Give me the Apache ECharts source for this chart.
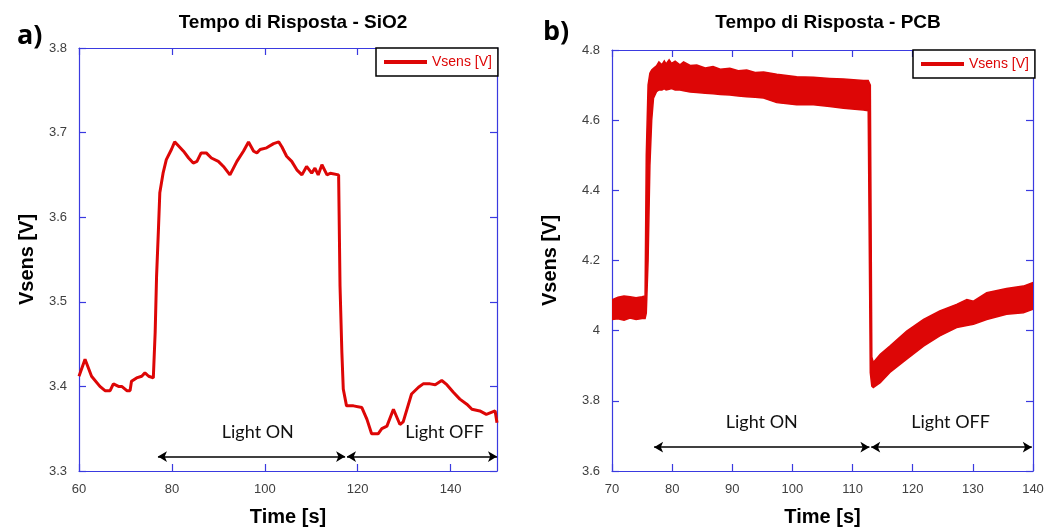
<!DOCTYPE html>
<html>
<head>
<meta charset="utf-8">
<script src="https://cdn.jsdelivr.net/npm/echarts@6/dist/echarts.min.js"></script>
<style>
  html, body { margin: 0; padding: 0; background: #fff; }
  #main { width: 1055px; height: 532px; }
</style>
</head>
<body>
<div id="main"></div>
<script>
// a) SiO2 response
var sio2Time = [60, 61.3, 62.7, 64.5, 65.6, 66.7, 67.4, 68.5, 69.2, 70.3, 71.0, 71.3, 72.4, 73.5, 74.2, 75.0, 76.0,
  76.4, 76.7, 77.1, 77.4, 78.1, 78.8, 79.9, 80.6, 81.3, 82.5, 83.6, 84.6, 85.4, 86.3, 87.4, 88.5, 90.0, 91.1,
  92.5, 94.0, 95.4, 96.5, 97.6, 98.3, 99.0, 100.4, 101.9, 103.0, 103.7, 104.7, 105.8, 106.9, 108.0, 109.0,
  110.1, 110.8, 111.5, 112.3, 113.4, 114.1, 115.9, 116.2, 116.6, 116.9, 117.6, 119.1, 120.9, 122.0, 123.0,
  124.4, 125.2, 126.3, 127.7, 129.1, 129.8, 131.6, 133.1, 134.1, 135.6, 136.7, 138.1, 139.2, 140.6, 142.0,
  143.5, 144.6, 146.3, 147.7, 149.6, 150.0];
var sio2V = [3.412, 3.432, 3.412, 3.400, 3.395, 3.395, 3.403, 3.400, 3.400, 3.395, 3.395, 3.406, 3.410, 3.412, 3.416, 3.412, 3.410,
  3.464, 3.530, 3.585, 3.629, 3.652, 3.668, 3.680, 3.689, 3.685, 3.678, 3.670, 3.664, 3.666, 3.676, 3.676, 3.670, 3.666, 3.660,
  3.650, 3.666, 3.678, 3.689, 3.678, 3.676, 3.680, 3.682, 3.687, 3.689, 3.683, 3.672, 3.666, 3.656, 3.650, 3.660,
  3.652, 3.658, 3.650, 3.662, 3.650, 3.652, 3.650, 3.519, 3.440, 3.397, 3.377, 3.377, 3.375, 3.361, 3.344,
  3.344, 3.350, 3.353, 3.373, 3.355, 3.358, 3.391, 3.399, 3.403, 3.403, 3.402, 3.407, 3.402, 3.393, 3.385,
  3.379, 3.373, 3.371, 3.367, 3.371, 3.357];

// b) PCB response: the signal is a dense band, kept as upper / lower envelope
var pcbTime = [70.0, 71.0, 72.0, 73.0, 74.0, 75.0, 75.5, 75.7, 76.0, 76.3, 76.6, 76.9, 77.4, 77.8, 78.3, 78.7, 79.0, 79.5, 79.9, 80.5,
  81.3, 81.9, 83.0, 84.1, 85.5, 86.8, 88.0, 89.6, 91.0, 92.4, 93.8, 95.2, 97.4, 100.7, 103.5, 106.2, 108.5, 111.8, 112.6, 112.95,
  113.2, 113.45, 114.6, 116.2, 119.0, 121.8, 124.5, 127.3, 129.0, 130.1, 132.3, 135.6, 138.4, 140.0];
var pcbHigh = [4.088, 4.095, 4.099, 4.097, 4.094, 4.097, 4.099, 4.50, 4.70, 4.734, 4.743, 4.748, 4.755, 4.766, 4.758, 4.769, 4.760, 4.772, 4.762, 4.768,
  4.758, 4.766, 4.756, 4.757, 4.749, 4.753, 4.745, 4.748, 4.741, 4.743, 4.736, 4.737, 4.731, 4.724, 4.722, 4.719, 4.717, 4.713, 4.713, 4.700,
  3.925, 3.909, 3.933, 3.956, 3.999, 4.032, 4.056, 4.075, 4.089, 4.084, 4.108, 4.120, 4.127, 4.137];
var pcbLow = [4.032, 4.034, 4.030, 4.036, 4.032, 4.035, 4.035, 4.05, 4.20, 4.47, 4.60, 4.663, 4.681, 4.686, 4.686, 4.690, 4.686, 4.688, 4.690, 4.686,
  4.686, 4.684, 4.680, 4.679, 4.677, 4.675, 4.673, 4.672, 4.669, 4.667, 4.665, 4.663, 4.650, 4.644, 4.644, 4.639, 4.634, 4.629, 4.627, 3.880,
  3.842, 3.838, 3.852, 3.881, 3.919, 3.956, 3.985, 4.009, 4.015, 4.018, 4.032, 4.047, 4.051, 4.061];

// annotations: [start, end] of each arrow and where its text sits
var sio2Arrows = [[77.0, 117.3], [117.7, 150]];
var sio2ArrowY = 3.317;
var sio2Notes = [['Light ON', 98.5], ['Light OFF', 138.7]];
var sio2NoteY = 3.346;
var pcbArrows = [[77.0, 112.8], [113.1, 139.8]];
var pcbArrowY = 3.668;
var pcbNotes = [['Light ON', 94.9], ['Light OFF', 126.3]];
var pcbNoteY = 3.739;

var RED = '#dd0606';
var BLUE = '#3a3ae0';

var myChart = echarts.init(document.getElementById('main'));

function xAxisFor(grid, min, max, step, top, maxLabel) {
  return {
    type: 'value', gridIndex: grid, min: min, max: max, interval: step,
    position: top ? 'top' : 'bottom',
    name: top ? '' : 'Time [s]',
    nameLocation: 'middle', nameGap: 36,
    nameTextStyle: { fontSize: 20, fontWeight: 'bold', color: '#000', fontFamily: 'Arial' },
    axisLine: { show: true, onZero: false, lineStyle: { color: BLUE, width: 1.2 } },
    axisTick: { show: true, inside: true, length: 7, lineStyle: { color: BLUE, width: 1.2 } },
    axisLabel: { show: !top, showMaxLabel: maxLabel, margin: 12, fontSize: 13, color: '#404040', fontFamily: 'Arial' },
    splitLine: { show: false }
  };
}

function yAxisFor(grid, min, max, step, right, gap) {
  return {
    type: 'value', gridIndex: grid, min: min, max: max, interval: step,
    position: right ? 'right' : 'left',
    name: right ? '' : 'Vsens [V]',
    nameLocation: 'middle', nameGap: gap,
    nameTextStyle: { fontSize: 20, fontWeight: 'bold', color: '#000', fontFamily: 'Arial' },
    axisLine: { show: true, onZero: false, lineStyle: { color: BLUE, width: 1.2 } },
    axisTick: { show: true, inside: true, length: 7, lineStyle: { color: BLUE, width: 1.2 } },
    axisLabel: { show: !right, margin: 12, fontSize: 13, color: '#404040', fontFamily: 'Arial' },
    splitLine: { show: false }
  };
}

function arrowLines(arrows, y) {
  return arrows.map(function (a) {
    return [{ coord: [a[0], y] }, { coord: [a[1], y] }];
  });
}

function notePoints(notes, y) {
  return notes.map(function (n) {
    return { coord: [n[1], y], value: n[0] };
  });
}

function markers(arrows, arrowY, notes, noteY) {
  return {
    markLine: {
      silent: true,
      symbol: ['arrow', 'arrow'],
      symbolSize: [8, 9],
      label: { show: false },
      lineStyle: { color: '#000', width: 1.5, type: 'solid' },
      emphasis: { disabled: true },
      data: arrowLines(arrows, arrowY)
    },
    markPoint: {
      silent: true,
      symbol: 'rect',
      symbolSize: 1,
      itemStyle: { color: 'rgba(0,0,0,0)' },
      label: {
        show: true, position: 'inside', color: '#111', fontSize: 18, fontFamily: 'Lato',
        formatter: function (p) { return p.value; }
      },
      data: notePoints(notes, noteY)
    }
  };
}

var sio2Series = Object.assign({
  name: 'Vsens [V]',
  type: 'line',
  xAxisIndex: 0,
  yAxisIndex: 0,
  showSymbol: false,
  symbol: 'none',
  lineStyle: { color: RED, width: 3 },
  itemStyle: { color: RED },
  data: sio2Time.map(function (t, i) { return [t, sio2V[i]]; })
}, markers(sio2Arrows, sio2ArrowY, sio2Notes, sio2NoteY));

var pcbSeries = {
  name: 'Vsens [V]',
  type: 'custom',
  xAxisIndex: 2,
  yAxisIndex: 2,
  clip: true,
  itemStyle: { color: RED },
  encode: { x: 0, y: [1, 2] },
  data: pcbTime.map(function (t, i) { return [t, pcbHigh[i], pcbLow[i]]; }),
  renderItem: function (params, api) {
    if (params.dataIndex !== 0) return null;
    var pts = [];
    for (var i = 0; i < pcbTime.length; i++) pts.push(api.coord([pcbTime[i], pcbHigh[i]]));
    for (var j = pcbTime.length - 1; j >= 0; j--) pts.push(api.coord([pcbTime[j], pcbLow[j]]));
    return {
      type: 'polygon',
      shape: { points: pts },
      style: { fill: RED, stroke: RED, lineWidth: 1.5 }
    };
  }
};

var pcbNotesSeries = Object.assign({
  name: 'notes',
  type: 'line',
  xAxisIndex: 2,
  yAxisIndex: 2,
  data: []
}, markers(pcbArrows, pcbArrowY, pcbNotes, pcbNoteY));

var option = {
  animation: false,
  backgroundColor: '#fff',
  title: [
    { text: 'Tempo di Risposta - SiO2', left: 288, top: 8, textAlign: 'center',
      textStyle: { fontSize: 19, fontWeight: 'bold', color: '#000', fontFamily: 'Arial' } },
    { text: 'Tempo di Risposta - PCB', left: 823, top: 8, textAlign: 'center',
      textStyle: { fontSize: 19, fontWeight: 'bold', color: '#000', fontFamily: 'Arial' } },
    { text: 'a)', left: 12, top: 18,
      textStyle: { fontSize: 27, fontWeight: 'bold', color: '#000', fontFamily: 'Open Sans' } },
    { text: 'b)', left: 538, top: 14,
      textStyle: { fontSize: 27, fontWeight: 'bold', color: '#000', fontFamily: 'Open Sans' } }
  ],
  legend: [
    { data: ['Vsens [V]'], left: 376, top: 48, padding: [7, 6, 7, 8],
      icon: 'rect', itemWidth: 43, itemHeight: 4, itemGap: 5,
      borderColor: '#000', borderWidth: 1.5, backgroundColor: '#fff',
      textStyle: { color: RED, fontSize: 14, fontFamily: 'Arial' }, selectedMode: false },
    { data: ['Vsens [V]'], left: 913, top: 50, padding: [7, 6, 7, 8],
      icon: 'rect', itemWidth: 43, itemHeight: 4, itemGap: 5,
      borderColor: '#000', borderWidth: 1.5, backgroundColor: '#fff',
      textStyle: { color: RED, fontSize: 14, fontFamily: 'Arial' }, selectedMode: false }
  ],
  grid: [
    { left: 79, top: 48, width: 418, height: 424 },
    { left: 612, top: 50, width: 421, height: 422 }
  ],
  xAxis: [
    xAxisFor(0, 60, 150, 20, false, false),
    xAxisFor(0, 60, 150, 20, true, false),
    xAxisFor(1, 70, 140, 10, false, true),
    xAxisFor(1, 70, 140, 10, true, true)
  ],
  yAxis: [
    yAxisFor(0, 3.3, 3.8, 0.1, false, 42),
    yAxisFor(0, 3.3, 3.8, 0.1, true, 0),
    yAxisFor(1, 3.6, 4.8, 0.2, false, 52),
    yAxisFor(1, 3.6, 4.8, 0.2, true, 0)
  ],
  series: [sio2Series, pcbSeries, pcbNotesSeries]
};

myChart.setOption(option);
</script>
</body>
</html>
